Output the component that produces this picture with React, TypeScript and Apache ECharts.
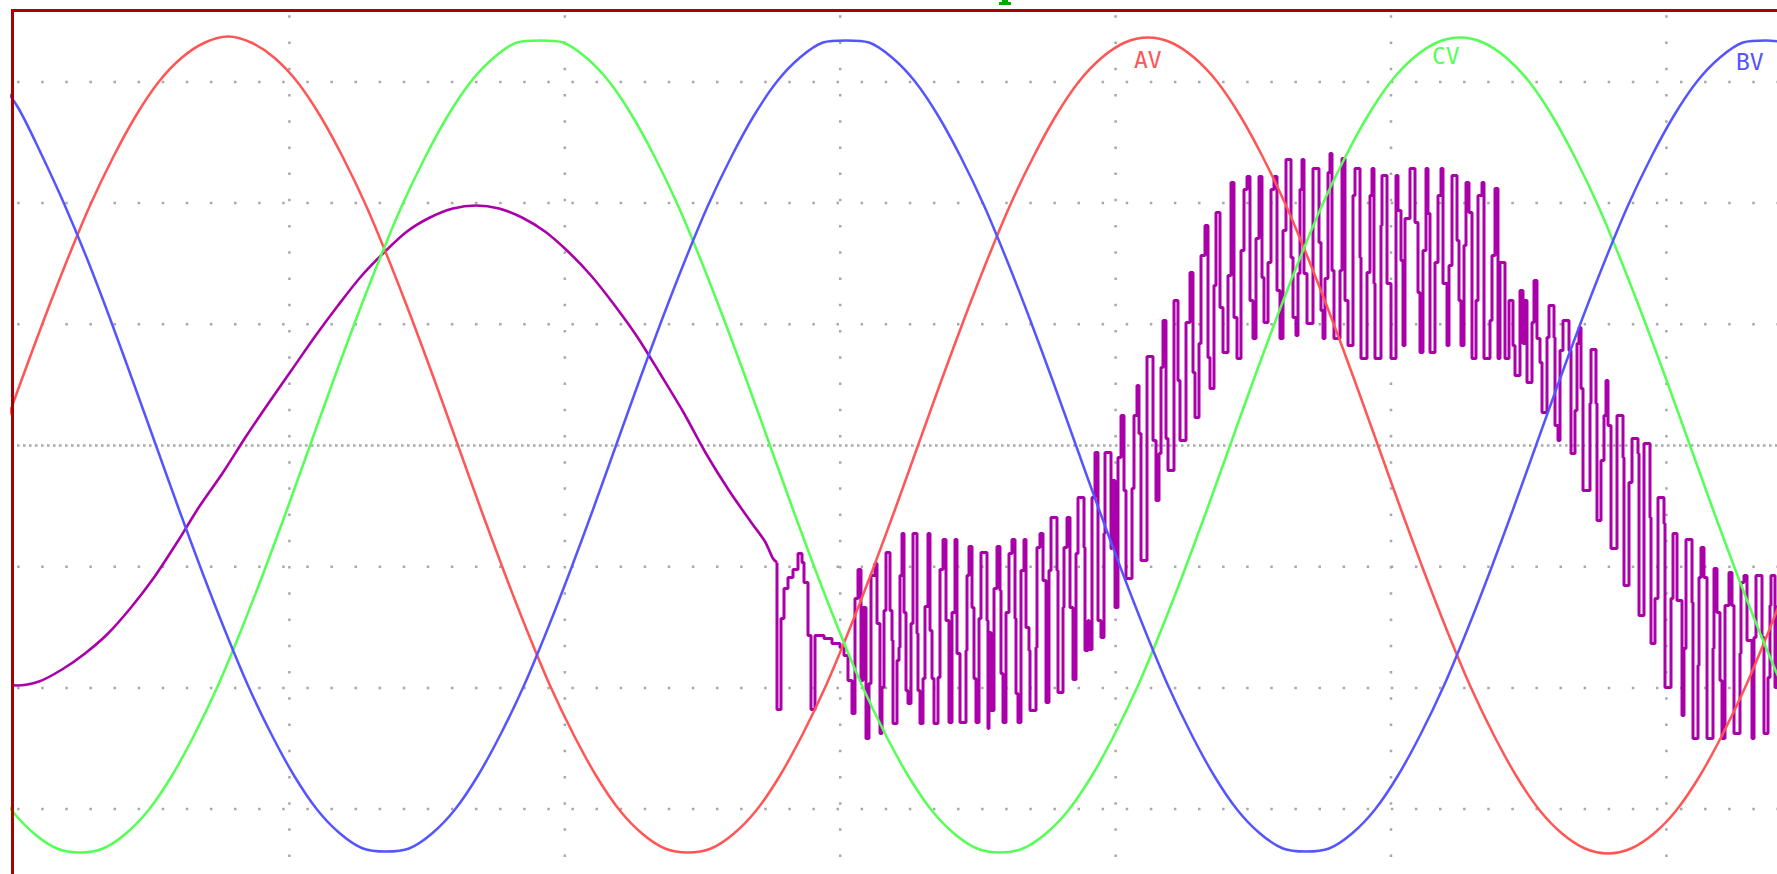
import { useEffect, useRef } from "react";
import * as echarts from "echarts";

// Record positions (sample index) and levels (counts, 0 = screen centre).

// Phase A (red)
const phaseAX = [
  -2, 21, 44, 67, 90, 113, 136, 159, 182, 205, 228, 251, 274, 297, 320, 343, 366, 389, 412, 435,
  458, 481, 504, 527, 550, 573, 596, 619, 642, 665, 688, 711, 734, 757, 780, 803, 826, 849, 872, 895,
  918, 941, 964, 987, 1010, 1033, 1056, 1079, 1102, 1125, 1148, 1171, 1194, 1217, 1240, 1263, 1286, 1309, 1332, 1355,
  1378, 1401, 1424, 1447, 1470, 1493, 1516, 1539, 1562, 1585, 1608, 1631, 1654, 1677, 1700, 1723, 1746, 1769, 1792,
];
const phaseAV = [
  0, 64, 126, 185, 240, 288, 330, 364, 388, 403, 409, 403, 388, 364, 330, 288, 240, 185, 126, 64,
  0, -64, -126, -185, -240, -288, -330, -364, -388, -403, -407, -403, -388, -364, -330, -288, -240, -185, -126, -64,
  0, 64, 126, 185, 240, 288, 330, 364, 388, 403, 408, 403, 388, 364, 330, 288, 240, 185, 126, 64,
  0, -64, -126, -185, -240, -288, -330, -364, -388, -403, -408, -403, -388, -364, -330, -288, -240, -185, -126,
];

// Phase C (green)
const phaseCX = [
  -12, 11, 34, 57, 80, 103, 126, 149, 172, 195, 218, 241, 264, 287, 310, 333, 356, 379, 402, 425,
  448, 471, 494, 517, 540, 563, 586, 609, 632, 655, 678, 701, 724, 747, 770, 793, 816, 839, 862, 885,
  908, 931, 954, 977, 1000, 1023, 1046, 1069, 1092, 1115, 1138, 1161, 1184, 1207, 1230, 1253, 1276, 1299, 1322, 1345,
  1368, 1391, 1414, 1437, 1460, 1483, 1506, 1529, 1552, 1575, 1598, 1621, 1644, 1667, 1690, 1713, 1736, 1759, 1782,
];
const phaseCV = [
  -330, -364, -388, -403, -407, -403, -388, -364, -330, -288, -240, -185, -126, -64, 0, 64, 126, 185, 240, 288,
  330, 364, 388, 403, 405, 403, 388, 364, 330, 288, 240, 185, 126, 64, 0, -64, -126, -185, -240, -288,
  -330, -364, -388, -403, -407, -403, -388, -364, -330, -288, -240, -185, -126, -64, 0, 64, 126, 185, 240, 288,
  330, 364, 388, 403, 408, 403, 388, 364, 330, 288, 240, 185, 126, 64, 0, -64, -126, -185, -240,
];

// Phase B (blue)
const phaseBX = [
  -5, 18, 41, 64, 87, 110, 133, 156, 179, 202, 225, 248, 271, 294, 317, 340, 363, 386, 409, 432,
  455, 478, 501, 524, 547, 570, 593, 616, 639, 662, 685, 708, 731, 754, 777, 800, 823, 846, 869, 892,
  915, 938, 961, 984, 1007, 1030, 1053, 1076, 1099, 1122, 1145, 1168, 1191, 1214, 1237, 1260, 1283, 1306, 1329, 1352,
  1375, 1398, 1421, 1444, 1467, 1490, 1513, 1536, 1559, 1582, 1605, 1628, 1651, 1674, 1697, 1720, 1743, 1766, 1789,
];
const phaseBV = [
  370, 338, 292, 242, 187, 127, 64, 0, -64, -126, -185, -240, -288, -330, -364, -388, -403, -406, -403, -388,
  -364, -330, -288, -240, -185, -126, -64, 0, 64, 126, 185, 240, 288, 330, 364, 388, 403, 405, 403, 388,
  364, 330, 288, 240, 185, 126, 64, 0, -64, -126, -185, -240, -288, -330, -364, -388, -403, -406, -403, -388,
  -364, -330, -288, -240, -185, -126, -64, 0, 64, 126, 185, 240, 288, 330, 364, 388, 403, 405, 403,
];

// Output current, smooth section before switching starts
const currentX = [
  12, 16, 39, 62, 85, 108, 131, 154, 177, 200, 223, 246, 269, 292, 315, 338, 361, 384, 407, 430,
  453, 476, 499, 522, 545, 568, 591, 614, 637, 660, 683, 706, 729, 752, 765, 773, 777,
];
const currentV = [
  -239, -240, -236, -224, -208, -188, -162, -132, -97, -60, -27, 9, 43, 76, 109, 140, 169, 193, 214, 228,
  237, 240, 237, 228, 214, 194, 170, 141, 109, 72, 34, -8, -45, -78, -96, -113, -117,
];

// Output current, switching section (each level holds until the next sample)
const switchX = [
  777, 777, 781, 784, 788, 793, 798, 802, 804, 808, 811, 815, 824, 832, 840, 844, 848, 852, 855, 858,
  861, 863, 866, 869, 871, 875, 877, 880, 882, 884, 886, 890, 892, 893, 897, 899, 900, 902, 904, 906,
  908, 911, 913, 917, 918, 920, 923, 925, 928, 930, 932, 934, 938, 940, 943, 946, 949, 952, 955, 957,
  960, 966, 967, 969, 972, 974, 976, 979, 981, 987, 988, 989, 991, 994, 997, 1000, 1001, 1003, 1006, 1009,
  1012, 1015, 1016, 1018, 1021, 1024, 1026, 1029, 1030, 1036, 1037, 1040, 1043, 1046, 1049, 1051, 1057, 1058, 1063, 1064,
  1067, 1070, 1073, 1076, 1078, 1084, 1085, 1088, 1089, 1092, 1095, 1098, 1101, 1104, 1105, 1111, 1112, 1115, 1118,
  1121, 1124, 1126, 1132, 1134, 1137, 1139, 1141, 1147, 1153, 1156, 1159, 1161, 1163, 1166, 1168, 1174, 1178, 1180, 1186,
  1190, 1193, 1195, 1199, 1201, 1205, 1208, 1210, 1214, 1216, 1220, 1223, 1228, 1231, 1234, 1237, 1241, 1244, 1247, 1250,
  1253, 1256, 1259, 1262, 1264, 1268, 1271, 1274, 1277, 1280, 1283, 1286, 1291, 1293, 1296, 1298, 1300, 1302, 1304, 1307,
  1313, 1319, 1321, 1323, 1325, 1328, 1330, 1332, 1334, 1340, 1342, 1345, 1348, 1353, 1355, 1360, 1361, 1367, 1370, 1372,
  1374, 1375, 1381, 1382, 1387, 1391, 1396, 1398, 1401, 1403, 1405, 1410, 1415, 1418, 1420, 1423, 1426, 1428, 1430, 1435,
  1438, 1441, 1443, 1447, 1449, 1452, 1457, 1459, 1461, 1464, 1466, 1469, 1472, 1476, 1478, 1482, 1484, 1490, 1492, 1495,
  1498, 1500, 1505, 1509, 1513, 1515, 1520, 1523, 1525, 1527, 1532, 1534, 1537, 1540, 1542, 1547, 1549, 1554, 1555, 1558,
  1560, 1563, 1569, 1571, 1575, 1577, 1579, 1581, 1583, 1590, 1591, 1596, 1597, 1601, 1604, 1606, 1608, 1611, 1617, 1623,
  1624, 1629, 1632, 1638, 1639, 1644, 1650, 1651, 1655, 1658, 1664, 1665, 1671, 1673, 1677, 1682, 1684, 1686, 1692, 1693,
  1698, 1699, 1701, 1704, 1707, 1713, 1714, 1717, 1720, 1722, 1725, 1729, 1732, 1734, 1740, 1741, 1744, 1747, 1752, 1754,
  1756, 1762, 1764, 1768, 1770, 1771, 1775, 1778,
];
const switchV = [
  -117, -264, -173, -143, -132, -124, -108, -117, -137, -190, -264, -190, -193, -198, -202, -210, -235, -268, -153, -124,
  -235, -162, -293, -238, -130, -118, -178, -288, -242, -165, -107, -165, -195, -278, -215, -202, -130, -88, -167, -245,
  -258, -178, -88, -188, -245, -278, -233, -161, -88, -185, -233, -278, -232, -124, -94, -175, -277, -167, -94, -208,
  -277, -205, -130, -101, -162, -233, -277, -173, -107, -175, -283, -187, -265, -143, -101, -145, -228, -277, -167, -108,
  -94, -173, -248, -277, -125, -94, -182, -205, -265, -202, -102, -88, -135, -257, -125, -72, -125, -247, -162, -102,
  -72, -162, -234, -108, -52, -102, -205, -175, -204, -52, -7, -175, -192, -88, -7, -103, -35, -162, -12,
  30, -45, -133, -43, 30, 60, 12, -115, 89, 5, -55, -8, 78, 125, 7, -25, 145, 65, 5, 123,
  173, 73, 28, 102, 190, 220, 88, 57, 160, 233, 138, 93, 170, 263, 128, 87, 195, 256, 269, 145,
  107, 207, 269, 168, 123, 183, 256, 269, 155, 107, 215, 286, 188, 128, 110, 172, 256, 286, 172, 122,
  277, 203, 135, 107, 167, 273, 292, 175, 107, 175, 287, 145, 100, 250, 277, 188, 87, 173, 250, 277,
  162, 87, 220, 270, 162, 87, 270, 235, 185, 100, 227, 277, 223, 153, 93, 195, 277, 232, 93, 183,
  250, 277, 162, 100, 180, 270, 205, 145, 100, 200, 263, 233, 87, 145, 250, 263, 87, 125, 190, 257,
  87, 183, 87, 145, 100, 70, 155, 102, 145, 63, 123, 165, 107, 83, 33, 108, 140, 108, 20, 5,
  95, 125, 95, -8, 35, 102, 118, 57, -45, 42, 96, 42, -75, -15, 30, 65, 20, -103, 30, -12,
  -140, -37, 7, -8, -170, 2, -72, -198, -153, -52, -78, -242, -153, -88, -155, -270, -203, -94, -157, -293,
  -220, -132, -102, -132, -293, -203, -123, -167, -235, -293, -160, -127, -160, -288, -208, -137, -130, -195, -293, -192,
  -130, -192, -288, -232, -160, -130, -242, -160,
];

// Trace labels
const traceLabels = ["AV", "CV", "BV"];

const RED = "#ff5555";
const GREEN = "#55ff55";
const BLUE = "#5555ff";
const PURPLE = "#aa00aa";
const FRAME = "#aa0000";
const DOT = "#a8a8a8";

const zip = (xs: number[], vs: number[]) => xs.map((x, i) => [x, vs[i]]);

export default function App() {
  const ref = useRef<HTMLDivElement>(null);

  useEffect(() => {
    if (!ref.current) return;
    const chart = echarts.init(ref.current, null, { renderer: "svg" });
    const W = 1777;
    const H = 874;

    const graphics: any[] = [];
    // dotted graticule
    const hRows = [81.9, 203.1, 324.3, 566.7, 687.9, 809.1];
    const vCols = [289.4, 564.8, 840.2, 1115.6, 1391, 1666.4];
    hRows.forEach((y) =>
      graphics.push({
        type: "line",
        silent: true,
        z: 0,
        shape: { x1: 14, y1: y, x2: W, y2: y },
        style: { stroke: DOT, lineWidth: 2.5, lineDash: [2.5, 21.6], lineDashOffset: 21.05 },
      })
    );
    vCols.forEach((x) =>
      graphics.push({
        type: "line",
        silent: true,
        z: 0,
        shape: { x1: x, y1: 12, x2: x, y2: H },
        style: { stroke: DOT, lineWidth: 2.5, lineDash: [2.5, 23.73], lineDashOffset: 23.48 },
      })
    );
    // centre line, finer dots
    graphics.push({
      type: "line",
      silent: true,
      z: 0,
      shape: { x1: 14, y1: 445.5, x2: W, y2: 445.5 },
      style: { stroke: DOT, lineWidth: 2.5, lineDash: [2.5, 3.5], lineDashOffset: 2.95 },
    });
    // frame
    graphics.push({ type: "rect", silent: true, z: 100, shape: { x: 11, y: 9, width: W - 11, height: 3 }, style: { fill: FRAME } });
    graphics.push({ type: "rect", silent: true, z: 100, shape: { x: 11, y: 9, width: 3, height: H - 9 }, style: { fill: FRAME } });
    // trigger marker
    graphics.push({ type: "rect", silent: true, z: 100, shape: { x: 1002, y: 0, width: 6, height: 2 }, style: { fill: "#00aa00" } });
    graphics.push({ type: "rect", silent: true, z: 100, shape: { x: 999, y: 2, width: 12, height: 3 }, style: { fill: "#00aa00" } });
    // trace names
    const labelPos = [
      { x: 1134, y: 59.5, color: RED },
      { x: 1432, y: 55.5, color: GREEN },
      { x: 1736, y: 62, color: BLUE },
    ];
    traceLabels.forEach((t, i) =>
      graphics.push({
        type: "text",
        silent: true,
        z: 100,
        x: labelPos[i].x,
        y: labelPos[i].y,
        style: {
          text: t,
          fill: labelPos[i].color,
          fontSize: 23,
          fontFamily: "DejaVu Sans Mono",
          align: "left",
          verticalAlign: "middle",
        },
      })
    );

    const wave = (data: number[][], color: string, width: number, z: number, extra: any = {}) => ({
      type: "line",
      data,
      symbol: "none",
      showSymbol: false,
      z,
      lineStyle: { color, width },
      emphasis: { disabled: true },
      ...extra,
    });

    chart.setOption({
      animation: false,
      backgroundColor: "#ffffff",
      grid: { left: 12, top: 10.5, right: 0, bottom: 0, containLabel: false },
      xAxis: { type: "value", min: 12, max: W, show: false },
      yAxis: { type: "value", min: -428.5, max: 435, show: false },
      graphic: graphics,
      series: [
        wave(zip(currentX, currentV), PURPLE, 2.6, 2, { smooth: 0.3 }),
        wave(zip(switchX, switchV), PURPLE, 3, 2, { step: "end" }),
        wave(zip(phaseAX, phaseAV), RED, 2.5, 3, { smooth: 0.3 }),
        wave(zip(phaseCX, phaseCV), GREEN, 2.5, 3, { smooth: 0.3 }),
        wave(zip(phaseBX, phaseBV), BLUE, 2.5, 3, { smooth: 0.3 }),
      ],
    });

    return () => chart.dispose();
  }, []);

  return (
    <div
      ref={ref}
      style={{ position: "absolute", left: 0, top: 0, width: 1777, height: 874, background: "#fff" }}
    />
  );
}
